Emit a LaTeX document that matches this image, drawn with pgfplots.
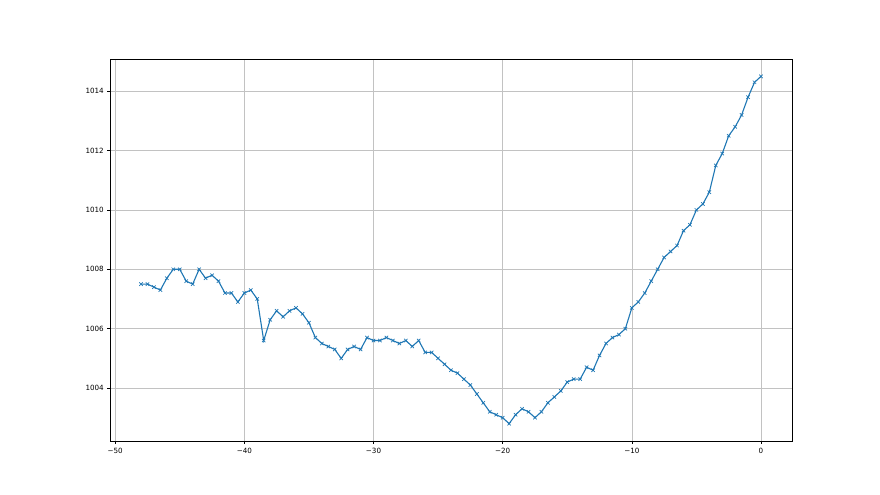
\documentclass[border=0pt]{standalone}
\usepackage{fontspec}
\setmainfont{DejaVu Sans}
\usepackage{pgfplots}
\pgfplotsset{compat=1.18}
\definecolor{mplblue}{HTML}{1F77B4}
\begin{document}
\begin{tikzpicture}
\begin{axis}[
  scale only axis,
  width=682bp, height=382bp,
  at={(0,0)}, anchor=south west,
  xmin=-50.4, xmax=2.4,
  ymin=1002.215, ymax=1015.085,
  xtick={-50,-40,-30,-20,-10,0},
  xticklabels={−50,−40,−30,−20,−10,0},
  ytick={1004,1006,1008,1010,1012,1014},
  yticklabels={1004,1006,1008,1010,1012,1014},
  tick align=outside,
  tick pos=left,
  major tick length=2.7bp,
  tick style={black, line width=0.6bp},
  axis line style={black, line width=0.6bp},
  grid=major,
  major grid style={color=black!24, line width=0.6bp},
  tick label style={font=\fontsize{7.2}{9}\selectfont},
  xticklabel style={yshift=-0.5bp},
  /pgf/number format/assume math mode=true,
]
\addplot[color=mplblue, line width=1.1bp, mark=x, mark size=2.4bp, mark options={line width=0.7bp}] coordinates {
(-48,1007.5) (-47.5,1007.5) (-47,1007.4) (-46.5,1007.3) (-46,1007.7) (-45.5,1008.0)
(-45,1008.0) (-44.5,1007.6) (-44,1007.5) (-43.5,1008.0) (-43,1007.7) (-42.5,1007.8)
(-42,1007.6) (-41.5,1007.2) (-41,1007.2) (-40.5,1006.9) (-40,1007.2) (-39.5,1007.3)
(-39,1007.0) (-38.5,1005.6) (-38,1006.3) (-37.5,1006.6) (-37,1006.4) (-36.5,1006.6)
(-36,1006.7) (-35.5,1006.5) (-35,1006.2) (-34.5,1005.7) (-34,1005.5) (-33.5,1005.4)
(-33,1005.3) (-32.5,1005.0) (-32,1005.3) (-31.5,1005.4) (-31,1005.3) (-30.5,1005.7)
(-30,1005.6) (-29.5,1005.6) (-29,1005.7) (-28.5,1005.6) (-28,1005.5) (-27.5,1005.6)
(-27,1005.4) (-26.5,1005.6) (-26,1005.2) (-25.5,1005.2) (-25,1005.0) (-24.5,1004.8)
(-24,1004.6) (-23.5,1004.5) (-23,1004.3) (-22.5,1004.1) (-22,1003.8) (-21.5,1003.5)
(-21,1003.2) (-20.5,1003.1) (-20,1003.0) (-19.5,1002.8) (-19,1003.1) (-18.5,1003.3)
(-18,1003.2) (-17.5,1003.0) (-17,1003.2) (-16.5,1003.5) (-16,1003.7) (-15.5,1003.9)
(-15,1004.2) (-14.5,1004.3) (-14,1004.3) (-13.5,1004.7) (-13,1004.6) (-12.5,1005.1)
(-12,1005.5) (-11.5,1005.7) (-11,1005.8) (-10.5,1006.0) (-10,1006.7) (-9.5,1006.9)
(-9,1007.2) (-8.5,1007.6) (-8,1008.0) (-7.5,1008.4) (-7,1008.6) (-6.5,1008.8)
(-6,1009.3) (-5.5,1009.5) (-5,1010.0) (-4.5,1010.2) (-4,1010.6) (-3.5,1011.5)
(-3,1011.9) (-2.5,1012.5) (-2,1012.8) (-1.5,1013.2) (-1,1013.8) (-0.5,1014.3)
(0,1014.5)
};
\end{axis}
\path (-110bp,-54bp) rectangle (770bp,441bp);
\end{tikzpicture}
\end{document}
